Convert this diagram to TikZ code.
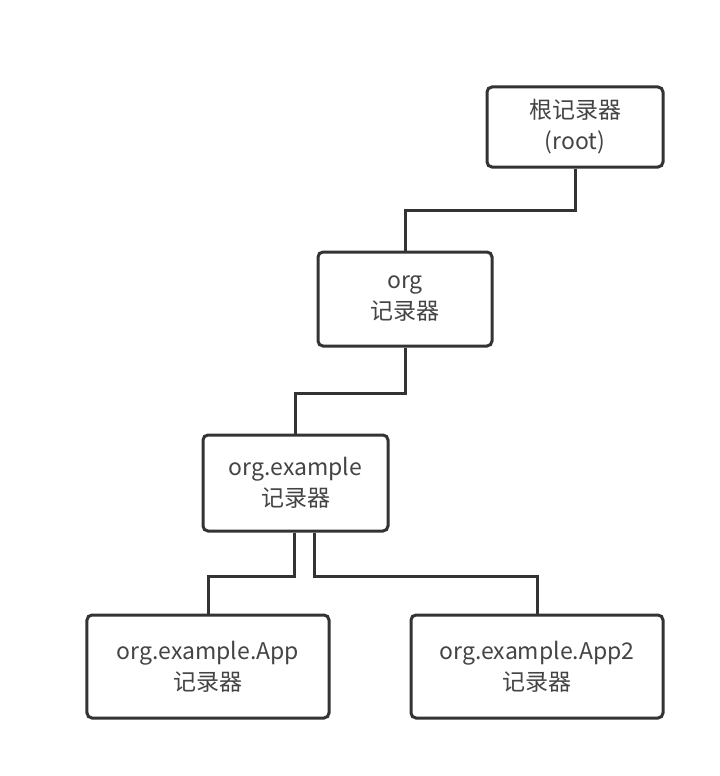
\documentclass[tikz,border=0pt]{standalone}
\usepackage{fontspec}
\setmainfont{Noto Sans CJK SC}
\begin{document}
\begin{tikzpicture}[x=1bp,y=-1bp,
  line width=3bp,
  box/.style={draw=linec, rounded corners=5bp, fill=white, align=center,
    text=textc, font=\fontsize{23bp}{31bp}\selectfont, inner sep=0pt},
  link/.style={draw=linec, line width=3bp}]
\definecolor{linec}{HTML}{333333}
\definecolor{textc}{HTML}{444444}
\useasboundingbox[fill=white] (0,0) rectangle (720,776);
\node[box, minimum width=176bp, minimum height=80bp] (root) at (575,127) {根记录器\\(root)};
\node[box, minimum width=174bp, minimum height=94bp] (org) at (405,299) {org\\记录器};
\node[box, minimum width=185bp, minimum height=96bp] (orgex) at (295.5,483) {org.example\\记录器};
\node[box, minimum width=242bp, minimum height=103bp] (app) at (208,666.5) {org.example.App\\记录器};
\node[box, minimum width=252bp, minimum height=103bp] (app2) at (537,666.5) {org.example.App2\\记录器};
\coordinate (j1) at (0,210);
\coordinate (j2) at (0,393);
\coordinate (j3) at (0,576);
\draw[link] (root.south) -- (root.south |- j1) -- (org.north |- j1) -- (org.north);
\draw[link] (org.south) -- (org.south |- j2) -- (orgex.north |- j2) -- (orgex.north);
\coordinate (sl) at ([xshift=-1bp]orgex.south);
\coordinate (sr) at ([xshift=19bp]orgex.south);
\draw[link] (sl) -- (sl |- j3) -- (app.north |- j3) -- (app.north);
\draw[link] (sr) -- (sr |- j3) -- (app2.north |- j3) -- (app2.north);
\end{tikzpicture}
\end{document}
